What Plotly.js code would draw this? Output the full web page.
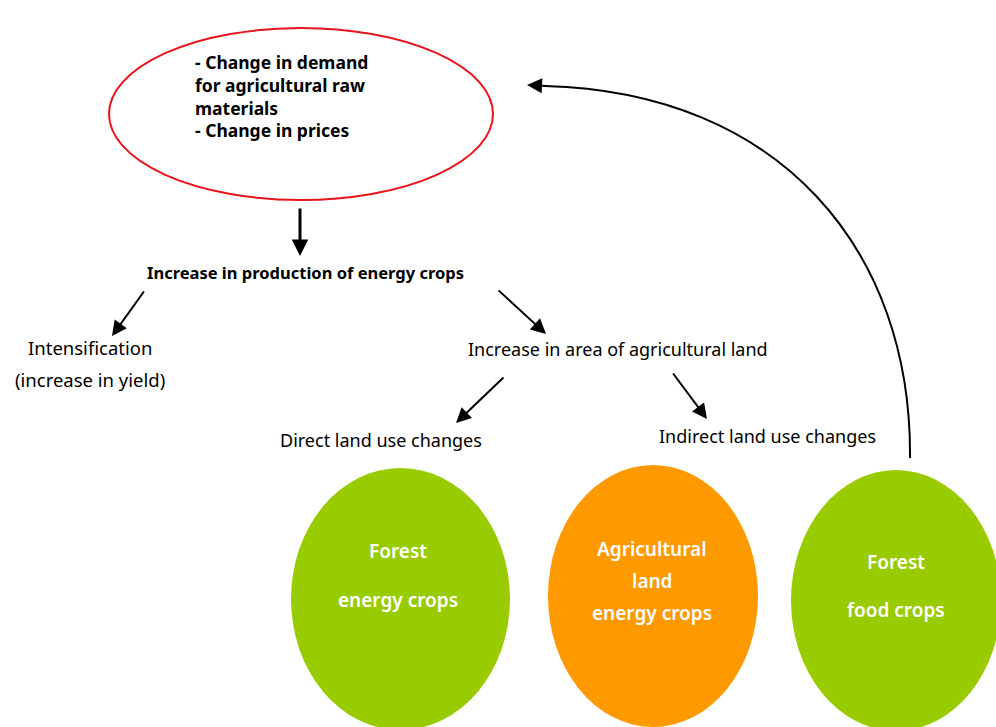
<!DOCTYPE html>
<html>
<head>
<meta charset="utf-8">
<script src="https://cdn.plot.ly/plotly-3.0.1.min.js"></script>
<style>html,body{margin:0;padding:0;background:#fff;}#chart{width:996px;height:727px;}</style>
</head>
<body>
<div id="chart"></div>
<script>
// Diagram content
const driverLines = ["- Change in demand", "for agricultural raw", "materials", "- Change in prices"];
const productionLabel = "Increase in production of energy crops";
const intensificationLines = ["Intensification", "(increase in yield)"];
const areaLabel = "Increase in area of agricultural land";
const directLabel = "Direct land use changes";
const indirectLabel = "Indirect land use changes";
const bubbleNames = ["Forest energy crops", "Agricultural land energy crops", "Forest food crops"];
const bubbleLines = [["Forest", "energy crops"], ["Agricultural", "land", "energy crops"], ["Forest", "food crops"]];
const bubbleColors = ["#99cc00", "#ff9900", "#99cc00"];

const FONT = "Noto Sans, Open Sans, sans-serif";

// Layout geometry (pixel space: x 0..996, y 0..727 top-down)
const bubbleBoxes = [[291, 468, 510, 730], [548, 465, 758, 727], [791, 470, 1001, 731]];
const bubbleLineY = [[551, 600], [549, 581, 613], [562, 610]];
const bubbleCx = [398, 652, 896];

const shapes = [];
const annotations = [];

// Top red ellipse
shapes.push({type: "circle", xref: "x", yref: "y", x0: 109, y0: 28, x1: 493, y1: 200,
  line: {color: "#e8141b", width: 2}, fillcolor: "rgba(0,0,0,0)"});

// Bubbles
bubbleBoxes.forEach((b, i) => {
  shapes.push({type: "circle", xref: "x", yref: "y", x0: b[0], y0: b[1], x1: b[2], y1: b[3],
    line: {width: 0, color: bubbleColors[i]}, fillcolor: bubbleColors[i], layer: "below"});
  bubbleLines[i].forEach((t, j) => {
    annotations.push({x: bubbleCx[i], y: bubbleLineY[i][j], xref: "x", yref: "y", text: t, showarrow: false,
      font: {family: FONT, size: 19, color: "#ffffff", weight: 600}, xanchor: "center", yanchor: "middle"});
  });
});

// Curved feedback arrow
shapes.push({type: "path", xref: "x", yref: "y", path: "M 910 458 C 912 250 780 92 545 86",
  line: {color: "#000", width: 2}});

// Driver text (one left-aligned block)
annotations.push({x: 193, y: 96, xref: "x", yref: "y",
  text: driverLines.map(t => "<b>" + t + "</b>").join("<br>"), showarrow: false,
  xanchor: "left", yanchor: "middle", align: "left",
  font: {family: FONT, size: 17.5, color: "#000"}});

// Labels
function label(x, y, t, bold, size) {
  annotations.push({x: x, y: y, xref: "x", yref: "y", text: bold ? "<b>" + t + "</b>" : t, showarrow: false,
    xanchor: "center", yanchor: "middle", font: {family: FONT, size: size, color: "#000"}});
}
label(305, 272, productionLabel, true, 16.5);
label(90, 347, intensificationLines[0], false, 18.5);
label(90, 379, intensificationLines[1], false, 18.5);
label(618, 349, areaLabel, false, 18);
label(381, 440, directLabel, false, 18);
label(767, 436, indirectLabel, false, 18);

// Straight arrows: [tailX, tailY, headX, headY, width]
const arrows = [
  [300, 207, 300, 256, 3],
  [145, 290, 112, 336, 2],
  [497, 289, 546, 334, 2],
  [505, 376, 456, 423, 2],
  [672, 372, 707, 419, 2],
  [548, 86, 527, 85, 2]
];
arrows.forEach(a => {
  annotations.push({x: a[2], y: a[3], ax: a[0], ay: a[1], xref: "x", yref: "y", axref: "x", ayref: "y",
    text: "", showarrow: true, arrowhead: 2, arrowsize: a[4] === 3 ? 1.1 : 1.5, arrowwidth: a[4],
    arrowcolor: "#000", standoff: 0, startstandoff: 0});
});

const layout = {
  width: 996, height: 727,
  margin: {l: 0, r: 0, t: 0, b: 0},
  paper_bgcolor: "#fff", plot_bgcolor: "#fff",
  xaxis: {range: [0, 996], visible: false, fixedrange: true},
  yaxis: {range: [727, 0], visible: false, fixedrange: true},
  shapes: shapes,
  annotations: annotations,
  showlegend: false
};

Plotly.newPlot("chart", [{x: [], y: [], type: "scatter", name: bubbleNames.join(", ")}], layout, {displayModeBar: false, staticPlot: true});
</script>
</body>
</html>
